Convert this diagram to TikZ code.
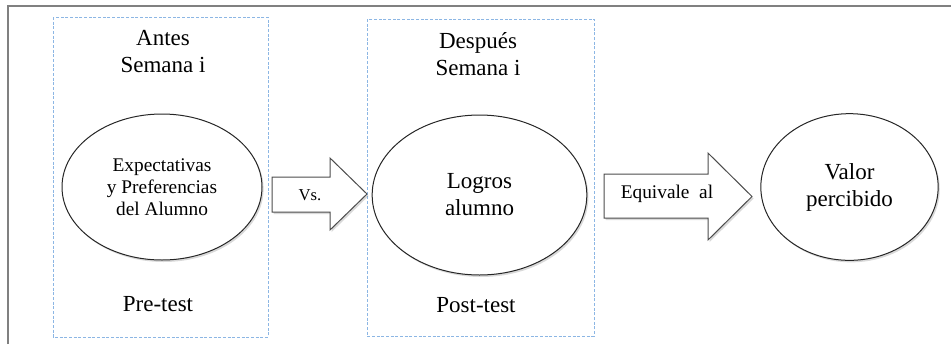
\documentclass[tikz,border=0pt]{standalone}
\usepackage{fontspec}
\setmainfont{Liberation Serif}
\usetikzlibrary{shapes.geometric,shadows,positioning}
\definecolor{boxblue}{RGB}{140,182,228}
\definecolor{framegray}{RGB}{128,128,128}

\begin{document}
\begin{tikzpicture}[x=0.75pt,y=-0.75pt,
                    font=\fontsize{17.25}{20.25}\selectfont]
  \tikzstyle{every node}=[align=center,inner sep=0pt]
  \tikzstyle{phase}=[draw=boxblue,dash pattern=on 2.2pt off 1.3pt,line width=0.7pt]
  \tikzstyle{oval}=[ellipse,draw=black!85,fill=white,line width=0.75pt,
                    drop shadow={shadow xshift=1.2pt,shadow yshift=-1.5pt,opacity=0.3}]
  \tikzstyle{blockarrow}=[draw=black!70,fill=white,line width=0.75pt,
                    drop shadow={shadow xshift=1.2pt,shadow yshift=-1.5pt,opacity=0.3}]
  \tikzstyle{small}=[font=\fontsize{14.5}{16.5}\selectfont]

  \useasboundingbox (0,0) rectangle (951,344);
  \draw[framegray,line width=1pt] (8,344) -- (8,6) -- (951,6);

  \draw[phase] (53,17) rectangle (268,337);
  \draw[phase] (367,19) rectangle (594,336);

  \node (antes)   at (163,52)  {Antes\\Semana i};
  \node (despues) at (478,54)  {Después\\Semana i};
  \node (pre)     at (158,304) {Pre-test};
  \node (post)    at (476,305) {Post-test};

  \node[oval,small,minimum width=150pt,minimum height=109.5pt] (expect) at (162,187)
       {Expectativas\\y Preferencias\\del Alumno};
  \node[oval,minimum width=161pt,minimum height=120pt] (logros) at (479.5,195)
       {Logros\\alumno};
  \node[oval,minimum width=133pt,minimum height=110pt] (valor) at (849.5,187)
       {Valor\\percibido};

  \draw[blockarrow] (272,177) -- (330,177) -- (330,158) -- (367,194)
        -- (330,230) -- (330,212) -- (272,212) -- cycle;
  \draw[blockarrow] (604,174) -- (708,174) -- (708,153) -- (752,196.5)
        -- (708,240) -- (708,218) -- (604,218) -- cycle;

  \node[font=\fontsize{12.5}{15}\selectfont] (vs) at (310,195) {Vs.};
  \node[small] (equiv) at (667,194) {Equivale\ \ al};
\end{tikzpicture}
\end{document}
